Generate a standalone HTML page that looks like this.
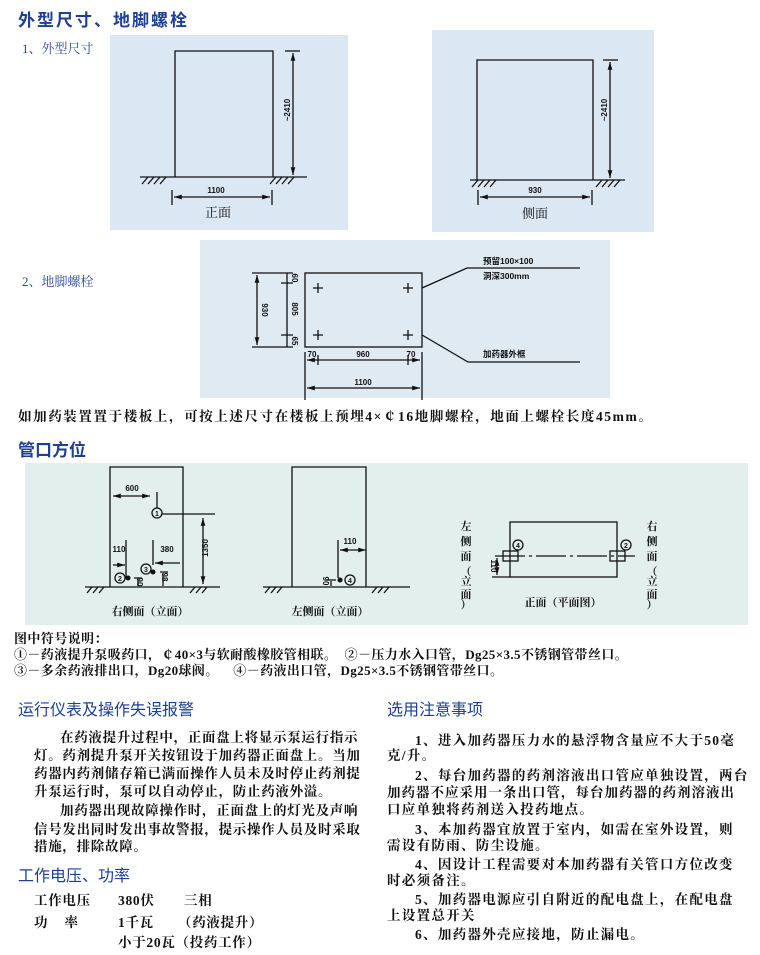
<!DOCTYPE html>
<html><head><meta charset="utf-8"><style>
body{margin:0;width:760px;height:955px;background:#fff;position:relative;overflow:hidden;font-family:"Liberation Serif","Noto Serif CJK SC",serif;}
.t{position:absolute;white-space:nowrap;}
.h{font-family:"Liberation Sans","Noto Sans CJK SC",sans-serif;color:#1d3f95;font-weight:bold;}
.b{font-weight:bold;font-size:13.5px;color:#111;letter-spacing:0.7px;}
.r{letter-spacing:1.3px;}
.s{font-weight:bold;font-size:13px;color:#111;letter-spacing:0.4px;}
svg{position:absolute;left:0;top:0;}
</style></head><body>
<svg width="760" height="955" font-family="Liberation Sans,Noto Sans CJK SC,sans-serif">
<defs><marker id="a" viewBox="0 0 10 10" refX="10" refY="5" markerWidth="6" markerHeight="6" orient="auto-start-reverse"><path d="M0,2 L10,5 L0,8z" fill="#111"/></marker></defs>
<rect x="110" y="35" width="238" height="195" fill="#dbe8f4"/>
<rect x="432" y="30" width="222" height="202" fill="#dbe8f4"/>
<rect x="200" y="240" width="410" height="158" fill="#dfeaf3"/>
<rect x="25" y="463" width="723" height="162" fill="#e2efed"/>
<g stroke="#111" fill="none" stroke-width="1.3">
<path d="M175,177 V51 H273 V177"/><path d="M140,177 H307"/>
<path d="M142,184 l6,-7 M148,184 l6,-7 M154,184 l6,-7 M160,184 l6,-7 M270,184 l6,-7 M276,184 l6,-7 M282,184 l6,-7 M288,184 l6,-7"/>
<path d="M285,51 H300"/><path d="M293,53 V175" marker-start="url(#a)" marker-end="url(#a)"/>
<path d="M172,190 V205 M272,190 V205"/><path d="M174,197 H270" marker-start="url(#a)" marker-end="url(#a)"/>
<path d="M477,180 V60 H593 V180"/><path d="M470,180 H625"/>
<path d="M472,187 l6,-7 M478,187 l6,-7 M484,187 l6,-7 M490,187 l6,-7 M596,187 l6,-7 M602,187 l6,-7 M608,187 l6,-7 M614,187 l6,-7"/>
<path d="M603,60 H618"/><path d="M610,62 V178" marker-start="url(#a)" marker-end="url(#a)"/>
<path d="M478,190 V205 M592,190 V205"/><path d="M480,197 H590" marker-start="url(#a)" marker-end="url(#a)"/>
<rect x="305" y="273" width="117" height="74"/>
<path d="M313,288 h10 M318,283 v10 M403,288 h10 M408,283 v10 M313,335 h10 M318,330 v10 M403,335 h10 M408,330 v10"/>
<path d="M252,273 H293 M252,347 H293 M281,283 H293 M281,335 H293"/>
<path d="M257,275 V345" marker-start="url(#a)" marker-end="url(#a)"/>
<path d="M287,273 V347"/>
<path d="M422,288 L467,268 H580 M422,335 L468,362 H580"/>
<path d="M305,352 V400 M422,352 V400 M318,355 V365 M408,355 V365"/>
<path d="M307,360 H420" marker-start="url(#a)" marker-end="url(#a)"/>
<path d="M307,388 H420" marker-start="url(#a)" marker-end="url(#a)"/>
<path d="M110,587 V467 H183 V587"/><path d="M85,587 H220"/>
<path d="M87,593 l5,-6 M93,593 l5,-6 M99,593 l5,-6 M190,593 l5,-6 M196,593 l5,-6 M202,593 l5,-6"/>
<path d="M113,496 H150" marker-start="url(#a)" marker-end="url(#a)"/>
<path d="M157,492 V508 M162,514 H215"/>
<path d="M203,518 V584" marker-start="url(#a)" marker-end="url(#a)"/>
<path d="M126,540 V578"/><path d="M113,565 H125" marker-end="url(#a)"/>
<path d="M153,540 V565"/><path d="M155,563 H180" marker-start="url(#a)"/>
<path d="M134,578 H142 M138,579 V586 M160,572 H168 M163,573 V586"/>
<path d="M292,587 V467 H366 V587"/><path d="M263,587 H410"/>
<path d="M265,593 l5,-6 M271,593 l5,-6 M277,593 l5,-6 M372,593 l5,-6 M378,593 l5,-6 M384,593 l5,-6"/>
<path d="M340,550 H366" marker-start="url(#a)" marker-end="url(#a)"/>
<path d="M338,540 V578 M326,580 H336 M331,581 V586"/>
<rect x="510" y="522" width="107" height="55"/>
<path d="M495,556 H635" stroke-dasharray="30,4,3,4"/>
<rect x="503" y="551" width="15" height="10"/><rect x="610" y="551" width="15" height="10"/>
<path d="M497,558 V575" marker-start="url(#a)" marker-end="url(#a)"/><path d="M492,577 H510"/>
<circle cx="157" cy="513" r="5"/><circle cx="120" cy="578" r="5"/><circle cx="146" cy="569" r="5"/><circle cx="350" cy="580" r="5"/>
<circle cx="518" cy="545" r="5"/><circle cx="626" cy="545" r="5"/>
</g>
<g fill="#111"><circle cx="128" cy="578" r="2.5"/><circle cx="153" cy="572" r="2.5"/><circle cx="340" cy="580" r="2.5"/></g>
<g font-size="8" font-weight="bold" fill="#111" text-anchor="middle">
<text x="157" y="516" font-size="7">1</text><text x="120" y="581" font-size="7">2</text><text x="146" y="572" font-size="7">3</text><text x="350" y="583" font-size="7">4</text><text x="518" y="548" font-size="7">4</text><text x="626" y="548" font-size="7">2</text>
<text x="216" y="193">1100</text><text x="535" y="193">930</text>
<text transform="translate(290,110) rotate(-90)">~2410</text><text transform="translate(607,110) rotate(-90)">~2410</text>
<text transform="translate(262,310) rotate(90)">930</text>
<text transform="translate(292,278) rotate(90)">60</text><text transform="translate(292,309) rotate(90)">805</text><text transform="translate(292,341) rotate(90)">65</text>
<text x="312" y="357">70</text><text x="363" y="357">960</text><text x="411" y="357">70</text><text x="363" y="385">1100</text>
<text x="132" y="491">600</text><text x="119" y="552">110</text><text x="167" y="552">380</text><text x="350" y="544">110</text>
<text transform="translate(208,548) rotate(-90)">1350</text>
<text transform="translate(137,582) rotate(90)">90</text><text transform="translate(162,577) rotate(90)">98</text>
<text transform="translate(323,581) rotate(90)">90</text><text transform="translate(491,566) rotate(90)">110</text>
</g>
<g font-size="8.5" font-weight="bold" fill="#111"><text x="483" y="264">预留100×100</text><text x="483" y="279">洞深300mm</text><text x="483" y="357">加药器外框</text></g>
<g font-family="Liberation Serif,Noto Serif CJK SC,serif" font-weight="bold" fill="#111" font-size="12" text-anchor="middle">
<text x="218" y="217" font-size="13" font-weight="normal">正面</text><text x="535" y="218" font-size="13" font-weight="normal">侧面</text>
<text x="150" y="615" font-size="11">右侧面（立面）</text><text x="330" y="615" font-size="11">左侧面（立面）</text><text x="563" y="606" font-size="11">正面（平面图）</text>
<g font-size="11"><text x="466" y="530">左</text><text x="466" y="545">侧</text><text x="466" y="560">面</text><text x="466" y="575">（</text><text x="466" y="585">立</text><text x="466" y="598">面</text><text x="466" y="608">）</text>
<text x="652" y="530">右</text><text x="652" y="545">侧</text><text x="652" y="560">面</text><text x="652" y="575">（</text><text x="652" y="585">立</text><text x="652" y="598">面</text><text x="652" y="608">）</text></g>
</g>
</svg>
<div class="t h" style="left:18px;top:6px;font-size:17px;letter-spacing:2px">外型尺寸、地脚螺栓</div>
<div class="t" style="left:22px;top:38px;font-size:13px;color:#2a4a9a">1、外型尺寸</div>
<div class="t" style="left:22px;top:271px;font-size:13px;color:#2a4a9a">2、地脚螺栓</div>
<div class="t b" style="left:18px;top:405px;font-size:13.5px;letter-spacing:1.6px">如加药装置置于楼板上，可按上述尺寸在楼板上预埋4×￠16地脚螺栓，地面上螺栓长度45mm。</div>
<div class="t h" style="left:18px;top:436px;font-size:17px">管口方位</div>
<div class="t s" style="left:14px;top:628px">图中符号说明：</div>
<div class="t s" style="left:14px;top:644px">①－药液提升泵吸药口，￠40×3与软耐酸橡胶管相联。&nbsp;&nbsp;②－压力水入口管，Dg25×3.5不锈钢管带丝口。</div>
<div class="t s" style="left:14px;top:660px">③－多余药液排出口，Dg20球阀。&nbsp;&nbsp;&nbsp;&nbsp;④－药液出口管，Dg25×3.5不锈钢管带丝口。</div>
<div class="t h" style="left:18px;top:696px;font-size:16px;font-weight:normal">运行仪表及操作失误报警</div>
<div class="t h" style="left:387px;top:696px;font-size:16px;font-weight:normal">选用注意事项</div>
<div class="t b" style="left:60px;top:726px">在药液提升过程中，正面盘上将显示泵运行指示</div>
<div class="t b" style="left:34px;top:744px">灯。药剂提升泵开关按钮设于加药器正面盘上。当加</div>
<div class="t b" style="left:34px;top:762px">药器内药剂储存箱已满而操作人员未及时停止药剂提</div>
<div class="t b" style="left:34px;top:780px">升泵运行时，泵可以自动停止，防止药液外溢。</div>
<div class="t b" style="left:60px;top:799px">加药器出现故障操作时，正面盘上的灯光及声响</div>
<div class="t b" style="left:34px;top:818px">信号发出同时发出事故警报，提示操作人员及时采取</div>
<div class="t b" style="left:34px;top:835px">措施，排除故障。</div>
<div class="t h" style="left:18px;top:862px;font-size:16px;font-weight:normal">工作电压、功率</div>
<div class="t b" style="left:34px;top:889px">工作电压</div><div class="t b" style="left:118px;top:889px">380伏</div><div class="t b" style="left:184px;top:889px">三相</div>
<div class="t b" style="left:34px;top:911px">功&nbsp;&nbsp;&nbsp;&nbsp;率</div><div class="t b" style="left:118px;top:911px">1千瓦</div><div class="t b" style="left:178px;top:911px">（药液提升）</div>
<div class="t b" style="left:118px;top:931px">小于20瓦（投药工作）</div>
<div class="t b r" style="left:415px;top:729px">1、进入加药器压力水的悬浮物含量应不大于50毫</div>
<div class="t b r" style="left:387px;top:744px">克/升。</div>
<div class="t b r" style="left:415px;top:764px">2、每台加药器的药剂溶液出口管应单独设置，两台</div>
<div class="t b" style="left:387px;top:781px;letter-spacing:1px">加药器不应采用一条出口管，每台加药器的药剂溶液出</div>
<div class="t b r" style="left:387px;top:798px">口应单独将药剂送入投药地点。</div>
<div class="t b r" style="left:415px;top:818px">3、本加药器宜放置于室内，如需在室外设置，则</div>
<div class="t b r" style="left:387px;top:834px">需设有防雨、防尘设施。</div>
<div class="t b r" style="left:415px;top:853px">4、因设计工程需要对本加药器有关管口方位改变</div>
<div class="t b r" style="left:387px;top:869px">时必须备注。</div>
<div class="t b r" style="left:415px;top:888px">5、加药器电源应引自附近的配电盘上，在配电盘</div>
<div class="t b r" style="left:387px;top:904px">上设置总开关</div>
<div class="t b r" style="left:415px;top:923px">6、加药器外壳应接地，防止漏电。</div>
</body></html>
